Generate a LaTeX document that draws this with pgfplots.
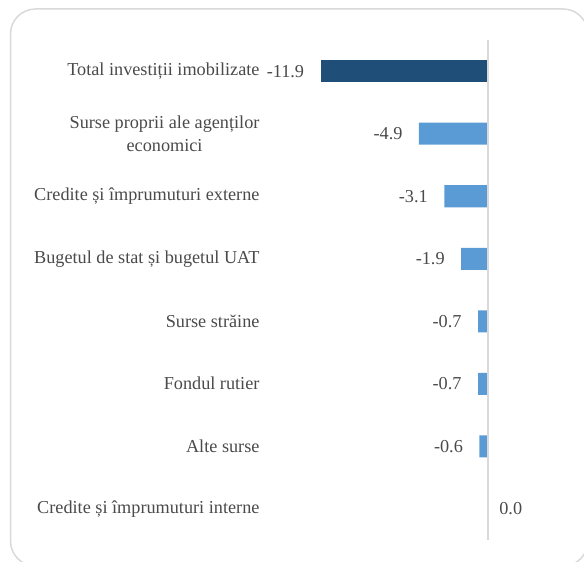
\documentclass[border=0pt]{standalone}
\usepackage{pgfplots}
\pgfplotsset{compat=1.18}
\usepackage{fontspec}
\setmainfont{Liberation Serif}
\definecolor{darkbar}{HTML}{1F4E79}
\definecolor{lightbar}{HTML}{5B9BD5}
\definecolor{txt}{HTML}{4A4A4A}
\definecolor{framec}{HTML}{D9D9D9}
\begin{document}
\begin{tikzpicture}[x=1bp,y=1bp]
\useasboundingbox (0,0) rectangle (584,562);
\draw[framec, line width=1.5bp, rounded corners=25bp] (10.5,553) rectangle (588,-4);
\begin{axis}[
  at={(263bp,22bp)}, anchor=south west,
  scale only axis, width=267bp, height=500bp,
  xmin=-16, xmax=3, ymin=-0.5, ymax=7.5, y dir=reverse,
  axis line style={draw=none},
  xtick=\empty,
  ytick={0,...,7},
  major tick length=0pt,
  yticklabels={Total investiții imobilizate, {Surse proprii ale agenților\\economici}, Credite și împrumuturi externe, Bugetul de stat și bugetul UAT, Surse străine, Fondul rutier, Alte surse, Credite și împrumuturi interne},
  yticklabel style={align=center, text=txt, font=\fontsize{18.3}{23}\selectfont},
  clip=false,
]
\addplot[xbar, bar width=22bp, bar shift=0pt, fill=darkbar, draw=none,
  point meta=explicit symbolic, nodes near coords,
  every node near coord/.append style={anchor=east, xshift=-13bp, text=txt, font=\fontsize{18.3}{23}\selectfont}]
  table[x=x, y=y, meta=lab] {
x y lab
-11.9 0 -11.9
};
\addplot[xbar, bar width=22bp, bar shift=0pt, fill=lightbar, draw=none,
  point meta=explicit symbolic, nodes near coords,
  every node near coord/.append style={anchor=east, xshift=-13bp, text=txt, font=\fontsize{18.3}{23}\selectfont}]
  table[x=x, y=y, meta=lab] {
x y lab
-4.9 1 -4.9
-3.1 2 -3.1
-1.9 3 -1.9
-0.7 4 -0.7
-0.7 5 -0.7
-0.6 6 -0.6
};
\addplot[xbar, bar width=22bp, bar shift=0pt, fill=lightbar, draw=none,
  point meta=explicit symbolic, nodes near coords,
  every node near coord/.append style={anchor=west, xshift=8bp, text=txt, font=\fontsize{18.3}{23}\selectfont}]
  table[x=x, y=y, meta=lab] {
x y lab
0 7 0.0
};
\draw[framec, line width=2bp] (axis cs:0,-0.5) -- (axis cs:0,7.5);
\end{axis}
\end{tikzpicture}
\end{document}
